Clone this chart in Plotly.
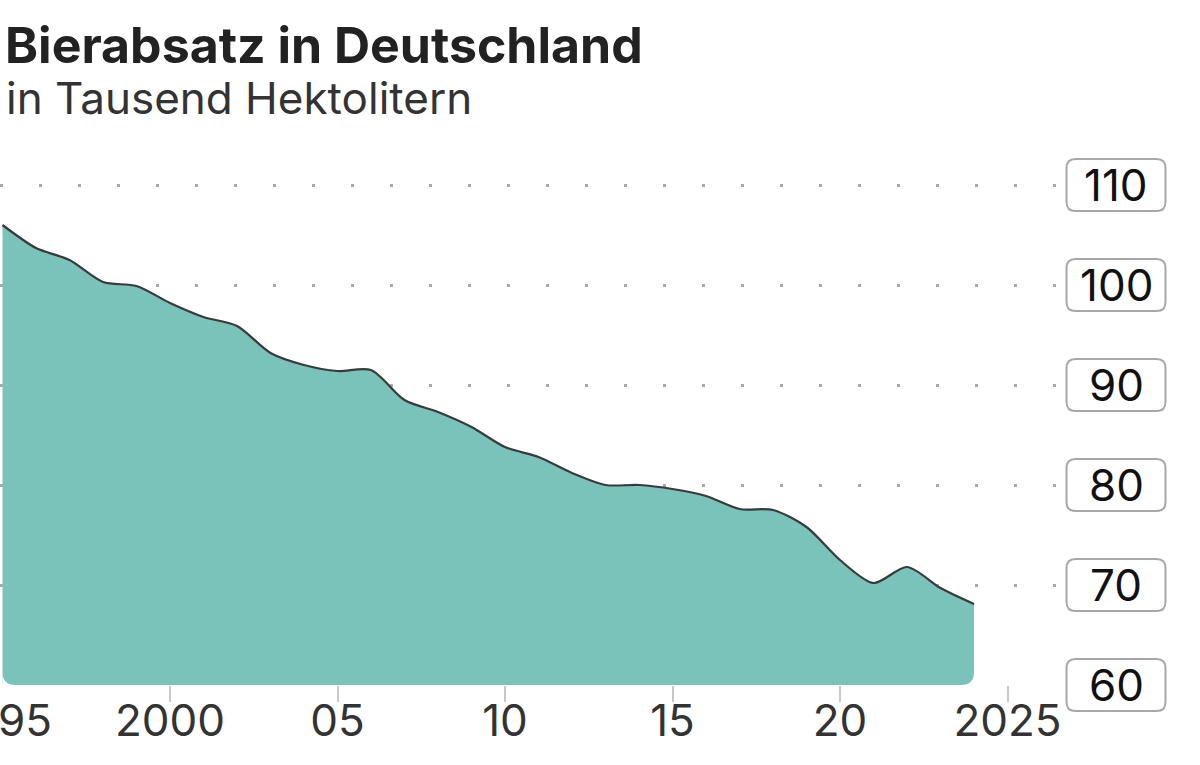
import plotly.graph_objects as go

# ---- data ----
years = list(range(1995, 2025))
sales = [106.0, 103.7, 102.5, 100.3, 99.9, 98.2, 96.8, 95.9, 93.2, 92.0,
         91.4, 91.5, 88.5, 87.3, 85.8, 83.8, 82.8, 81.2, 80.0, 80.0,
         79.6, 78.9, 77.6, 77.5, 75.8, 72.5, 70.2, 71.8, 69.7, 68.1]
x_tickvals = [1995, 2000, 2005, 2010, 2015, 2020, 2025]
x_ticktext = ["1995", "2000", "05", "10", "15", "20", "2025"]
x_tickmarks = [2000, 2005, 2010, 2015, 2020, 2025]
y_tickvals = [60, 70, 80, 90, 100, 110]
y_ticktext = ["60", "70", "80", "90", "100", "110"]

title = "Bierabsatz in Deutschland"
subtitle = "in Tausend Hektolitern"

# ---- layout constants ----
W, H = 1200, 765
ML, MR, MT, MB = 0, 142, 145, 80
PW = W - ML - MR  # plot width in px
PH = H - MT - MB
Y0, Y1 = 60, 114
PX_PER_UNIT = PH / (Y1 - Y0)
PX_PER_YEAR = 33.5

FILL = "#7ac3bb"
LINE = "#3a3a3a"
FONT = "Inter"

fig = go.Figure()
fig.add_trace(go.Scatter(
    x=years, y=sales, mode="lines", fill="tozeroy", fillcolor=FILL,
    line=dict(width=0, shape="spline", smoothing=0.8, color=FILL),
    hoverinfo="skip", showlegend=False,
))
fig.add_trace(go.Scatter(
    x=years, y=sales, mode="lines",
    line=dict(width=2.2, shape="spline", smoothing=0.8, color=LINE),
    showlegend=False,
))
# invisible trace to carry the tick-mark axis
fig.add_trace(go.Scatter(x=[years[0]], y=[Y0], xaxis="x2", mode="markers",
                         marker=dict(opacity=0), hoverinfo="skip",
                         showlegend=False))


def rounded_rect(cx_px, cy_val, w_px, h_px, r_px):
    # paper coordinates
    cy = (cy_val - Y0) / (Y1 - Y0)
    x0 = (cx_px - w_px / 2) / PW
    x1 = (cx_px + w_px / 2) / PW
    rx = r_px / PW
    hy = h_px / 2 / PH
    ry = r_px / PH
    y0, y1 = cy - hy, cy + hy
    return (f"M {x0+rx},{y1} L {x1-rx},{y1} Q {x1},{y1} {x1},{y1-ry} "
            f"L {x1},{y0+ry} Q {x1},{y0} {x1-rx},{y0} L {x0+rx},{y0} "
            f"Q {x0},{y0} {x0},{y0+ry} L {x0},{y1-ry} Q {x0},{y1} {x0+rx},{y1} Z")


shapes = []
annotations = []

# rounded bottom corners of the area (white masks)
R = 13
rx, ry = R / PX_PER_YEAR, R / PX_PER_UNIT
xa, xb = years[0], years[-1]
shapes.append(dict(type="path", xref="x", yref="y", layer="above",
                   path=f"M {xa},{Y0} L {xa+rx},{Y0} Q {xa},{Y0} {xa},{Y0+ry} Z",
                   fillcolor="white", line=dict(width=0)))
shapes.append(dict(type="path", xref="x", yref="y", layer="above",
                   path=f"M {xb},{Y0} L {xb-rx},{Y0} Q {xb},{Y0} {xb},{Y0+ry} Z",
                   fillcolor="white", line=dict(width=0)))

LABEL_CX = 1116
for v, t in zip(y_tickvals, y_ticktext):
    shapes.append(dict(type="path", xref="paper", yref="paper",
                       path=rounded_rect(LABEL_CX, v, 99, 52, 9),
                       line=dict(color="#a8a8a8", width=2), fillcolor="white",
                       layer="above"))
    annotations.append(dict(xref="paper", yref="paper", x=LABEL_CX / PW,
                            y=(v - Y0) / (Y1 - Y0),
                            text=t, showarrow=False, xanchor="center",
                            yanchor="middle",
                            font=dict(family=FONT, size=44, color="#111")))

annotations.append(dict(xref="paper", yref="paper", x=3 / PW,
                        y=(H - MB - 45) / PH, text=title,
                        showarrow=False, xanchor="left", yanchor="middle",
                        font=dict(family=FONT, size=50, color="#222", weight=700)))
annotations.append(dict(xref="paper", yref="paper", x=4 / PW,
                        y=(H - MB - 98) / PH, text=subtitle,
                        showarrow=False, xanchor="left", yanchor="middle",
                        font=dict(family=FONT, size=44, color="#333")))

x_start = 1995 - 2.5 / PX_PER_YEAR
x_end = x_start + PW / PX_PER_YEAR

fig.update_layout(
    width=W, height=H,
    margin=dict(l=ML, r=MR, t=MT, b=MB, pad=0, autoexpand=False),
    plot_bgcolor="white", paper_bgcolor="white",
    shapes=shapes, annotations=annotations,
    xaxis=dict(range=[x_start, x_end], tickvals=x_tickvals, ticktext=x_ticktext,
               showgrid=False, zeroline=False, showline=False, automargin=False,
               ticks="", ticklabelstandoff=6,
               ticklabeloverflow="allow",
               tickfont=dict(family=FONT, size=44, color="#333")),
    xaxis2=dict(range=[x_start, x_end], overlaying="x", side="bottom",
                anchor="y", tickvals=x_tickmarks, showticklabels=False,
                showgrid=False, zeroline=False, showline=False, automargin=False,
                ticks="outside", ticklen=16, tickwidth=2, tickcolor="#c8c8c8"),
    yaxis=dict(range=[Y0, Y1], tickvals=y_tickvals[1:], showticklabels=False,
               showgrid=True, gridcolor="#a9a9a9", gridwidth=3, automargin=False,
               griddash="3px,36px", zeroline=False, showline=False),
    font=dict(family=FONT),
)

fig.write_html("out.html", config={"displayModeBar": False},
               post_script="document.body.style.margin='0';")
